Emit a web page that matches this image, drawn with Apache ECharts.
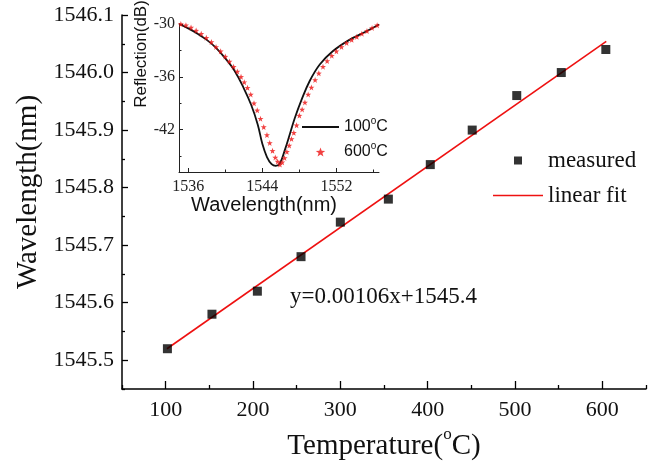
<!DOCTYPE html>
<html>
<head>
<meta charset="utf-8">
<script src="https://cdn.jsdelivr.net/npm/echarts@6/dist/echarts.min.js"></script>
<style>html,body{margin:0;padding:0;background:#fff;}#c{width:659px;height:465px;}</style>
</head>
<body>
<div id="c"></div>
<script>
// ---- main chart data ----
var temperatures = [102, 153, 205, 255, 300, 355, 403, 451, 502, 553, 604];
var wavelengths = [1545.52, 1545.58, 1545.62, 1545.68, 1545.74, 1545.78, 1545.84, 1545.90, 1545.96, 1546.00, 1546.04];
var fitX = [101.5, 604.5];
var fitY = [1545.52, 1546.054];
var mainXMajor = [100, 200, 300, 400, 500, 600];
var mainXMinor = [50, 150, 250, 350, 450, 550, 650];
var mainYMajor = [1545.5, 1545.6, 1545.7, 1545.8, 1545.9, 1546.0, 1546.1];
var mainYMinor = [1545.45, 1545.55, 1545.65, 1545.75, 1545.85, 1545.95, 1546.05];
var equationText = 'y=0.00106x+1545.4';

// ---- inset data ----
var spec100X = [1535.0, 1536.0, 1537.0, 1538.0, 1539.0, 1540.0, 1541.0, 1542.0, 1542.8, 1543.5, 1544.0, 1544.5, 1545.0, 1545.45, 1545.9, 1546.4, 1547.0, 1547.5, 1548.2, 1549.1, 1550.2, 1551.6, 1553.4, 1555.2, 1556.6];
var spec100Y = [-30.0, -30.5, -31.1, -31.8, -32.7, -33.9, -35.3, -37.3, -39.2, -41.4, -43.6, -45.1, -45.9, -46.1, -45.8, -44.4, -42.4, -40.7, -38.7, -36.5, -34.6, -33.1, -31.8, -30.85, -30.05];
var spec600X = [1535.2, 1535.75, 1536.3, 1536.85, 1537.4, 1537.95, 1538.5, 1539.0, 1539.5, 1540.0, 1540.45, 1540.9, 1541.3, 1541.7, 1542.05, 1542.4, 1542.75, 1543.1, 1543.45, 1543.8, 1544.15, 1544.5, 1544.8, 1545.1, 1545.4, 1545.65, 1545.9, 1546.15, 1546.4, 1546.65, 1546.9, 1547.15, 1547.4, 1547.7, 1548.0, 1548.3, 1548.6, 1548.95, 1549.3, 1549.7, 1550.1, 1550.55, 1551.0, 1551.5, 1552.0, 1552.55, 1553.1, 1553.65, 1554.2, 1554.75, 1555.3, 1555.85, 1556.4];
var spec600Y = [-30.0, -30.15, -30.4, -30.75, -31.1, -31.55, -32.05, -32.6, -33.1, -33.7, -34.25, -34.85, -35.4, -36.0, -36.6, -37.25, -38.0, -39.0, -39.8, -40.75, -41.7, -42.6, -43.5, -44.4, -45.15, -45.6, -45.95, -45.7, -45.2, -44.5, -43.8, -43.05, -42.35, -41.5, -40.4, -39.7, -38.9, -38.0, -37.2, -36.35, -35.6, -34.85, -34.2, -33.6, -33.1, -32.6, -32.15, -31.8, -31.45, -31.1, -30.8, -30.45, -30.15];
var insetXMajor = [1536, 1544, 1552];
var insetXMinor = [1540, 1548, 1556];
var insetYMajor = [-30, -36, -42];
var insetYMinor = [-33, -39, -45];

var star = 'path://M0,-10L2.35,-3.24L9.51,-3.09L3.8,1.24L5.88,8.09L0,4L-5.88,8.09L-3.8,1.24L-9.51,-3.09L-2.35,-3.24Z';
var squareIcon = 'path://M0,0H10V10H0Z';
var lineIcon = 'path://M0,0H60V1.8H0Z';
var lineIconSmall = 'path://M0,0H40V2.2H0Z';
var SERIF = '"Liberation Serif","Times New Roman",serif';
var SANS = '"Liberation Sans",Arial,sans-serif';

function zip(a, b) { return a.map(function (v, i) { return [v, b[i]]; }); }
function plain(v) { return String(v); }

var chart = echarts.init(document.getElementById('c'));
var axisLineStyle = { color: '#000', width: 1.5 };

chart.setOption({
  animation: false,
  backgroundColor: '#fff',
  grid: [
    { left: 122, top: 15, width: 524, height: 374, outerBoundsMode: 'none', containLabel: false },
    { left: 179, top: 24, width: 200, height: 148, outerBoundsMode: 'none', containLabel: false }
  ],
  xAxis: [
    { gridIndex: 0, type: 'value', min: 50, max: 650, position: 'bottom',
      axisLine: { lineStyle: axisLineStyle },
      axisTick: { inside: true, length: 8, customValues: mainXMajor, lineStyle: { color: '#000', width: 1.3 } },
      axisLabel: { customValues: mainXMajor, margin: 10, fontFamily: SERIF, fontSize: 22, color: '#111', formatter: plain },
      splitLine: { show: false },
      name: 'Temperature({sup|o}C)', nameLocation: 'middle', nameGap: 34,
      nameTextStyle: { fontFamily: SERIF, fontSize: 29, lineHeight: 40, color: '#111',
        rich: { sup: { fontFamily: SERIF, fontSize: 17, lineHeight: 17, verticalAlign: 'top', color: '#111' } } }
    },
    { gridIndex: 0, type: 'value', min: 50, max: 650, position: 'bottom',
      axisLine: { show: false },
      axisTick: { inside: true, length: 4, customValues: mainXMinor, lineStyle: { color: '#000', width: 1.3 } },
      axisLabel: { show: false }, splitLine: { show: false }
    },
    { gridIndex: 1, type: 'value', min: 1535, max: 1556.6, position: 'bottom',
      axisLine: { lineStyle: { color: '#222', width: 1 } },
      axisTick: { inside: true, length: 4, customValues: insetXMajor, lineStyle: { color: '#222' } },
      axisLabel: { customValues: insetXMajor, margin: 7, fontFamily: SERIF, fontSize: 16, color: '#222', formatter: plain },
      splitLine: { show: false },
      name: 'Wavelength(nm)', nameLocation: 'middle', nameGap: 23,
      nameTextStyle: { fontFamily: SANS, fontSize: 20, color: '#111', padding: [0, 30, 0, 0] }
    },
    { gridIndex: 1, type: 'value', min: 1535, max: 1556.6, position: 'bottom',
      axisLine: { show: false },
      axisTick: { inside: true, length: 2.5, customValues: insetXMinor, lineStyle: { color: '#222' } },
      axisLabel: { show: false }, splitLine: { show: false }
    }
  ],
  yAxis: [
    { gridIndex: 0, type: 'value', min: 1545.45, max: 1546.1, position: 'left',
      axisLine: { show: true, lineStyle: axisLineStyle },
      axisTick: { show: true, inside: true, length: 6, customValues: mainYMajor, lineStyle: { color: '#000', width: 1.3 } },
      axisLabel: { customValues: mainYMajor, margin: 8, fontFamily: SERIF, fontSize: 22, color: '#111',
        formatter: function (v) { return v.toFixed(1); } },
      splitLine: { show: false },
      name: 'Wavelength(nm)', nameLocation: 'middle', nameGap: 79,
      nameTextStyle: { fontFamily: SERIF, fontSize: 29, color: '#111', padding: [0, 0, 0, 20] }
    },
    { gridIndex: 0, type: 'value', min: 1545.45, max: 1546.1, position: 'left',
      axisLine: { show: false },
      axisTick: { show: true, inside: true, length: 3, customValues: mainYMinor, lineStyle: { color: '#000', width: 1.3 } },
      axisLabel: { show: false }, splitLine: { show: false }
    },
    { gridIndex: 1, type: 'value', min: -46.8, max: -30, position: 'left',
      axisLine: { show: true, lineStyle: { color: '#222', width: 1 } },
      axisTick: { show: true, inside: true, length: 4, customValues: insetYMajor, lineStyle: { color: '#222' } },
      axisLabel: { customValues: insetYMajor, margin: 4, fontFamily: SERIF, fontSize: 16, color: '#222', formatter: plain },
      splitLine: { show: false },
      name: 'Reflection(dB)', nameLocation: 'middle', nameGap: 28,
      nameTextStyle: { fontFamily: SANS, fontSize: 17, color: '#111', padding: [0, 0, 0, 88] }
    },
    { gridIndex: 1, type: 'value', min: -46.8, max: -30, position: 'left',
      axisLine: { show: false },
      axisTick: { show: true, inside: true, length: 2.5, customValues: insetYMinor, lineStyle: { color: '#222' } },
      axisLabel: { show: false }, splitLine: { show: false }
    }
  ],
  legend: [
    { data: [{ name: 'measured', icon: squareIcon }, { name: 'linear fit', icon: lineIcon }], orient: 'vertical', left: 488, top: 144,
      itemWidth: 50, itemHeight: 8, itemGap: 12, symbolKeepAspect: true,
      textStyle: { fontFamily: SERIF, fontSize: 23, color: '#111' } },
    { data: [{ name: '100°C', icon: lineIconSmall }, { name: '600°C', icon: star }], orient: 'vertical', left: 297, top: 111,
      itemWidth: 37, itemHeight: 9, itemGap: 3, symbolKeepAspect: true,
      formatter: function (n) { return n.replace('°', '{sup|o}'); },
      textStyle: { fontFamily: SANS, fontSize: 16, lineHeight: 22, color: '#111',
        rich: { sup: { fontFamily: SANS, fontSize: 10, lineHeight: 10, verticalAlign: 'top', color: '#111' } } } }
  ],
  graphic: [
    { type: 'text', left: 290, top: 285, z: 10,
      style: { text: equationText, fontFamily: SERIF, fontSize: 23, fill: '#111' } }
  ],
  series: [
    { name: 'linear fit', type: 'line', xAxisIndex: 0, yAxisIndex: 0, data: zip(fitX, fitY),
      symbol: 'none', lineStyle: { color: '#ee1111', width: 1.6 }, itemStyle: { color: '#ee1111' }, z: 2 },
    { name: 'measured', type: 'scatter', xAxisIndex: 0, yAxisIndex: 0, data: zip(temperatures, wavelengths),
      symbol: 'rect', symbolSize: 9, itemStyle: { color: '#000' }, z: 3 },
    { name: '100°C', type: 'line', xAxisIndex: 2, yAxisIndex: 2, data: zip(spec100X, spec100Y),
      symbol: 'none', smooth: 0.4, lineStyle: { color: '#111', width: 1.8 }, itemStyle: { color: '#111' }, z: 3 },
    { name: '600°C', type: 'scatter', xAxisIndex: 2, yAxisIndex: 2, data: zip(spec600X, spec600Y),
      symbol: star, symbolSize: 6, itemStyle: { color: '#ee1111' }, z: 4 }
  ]
});
</script>
</body>
</html>
